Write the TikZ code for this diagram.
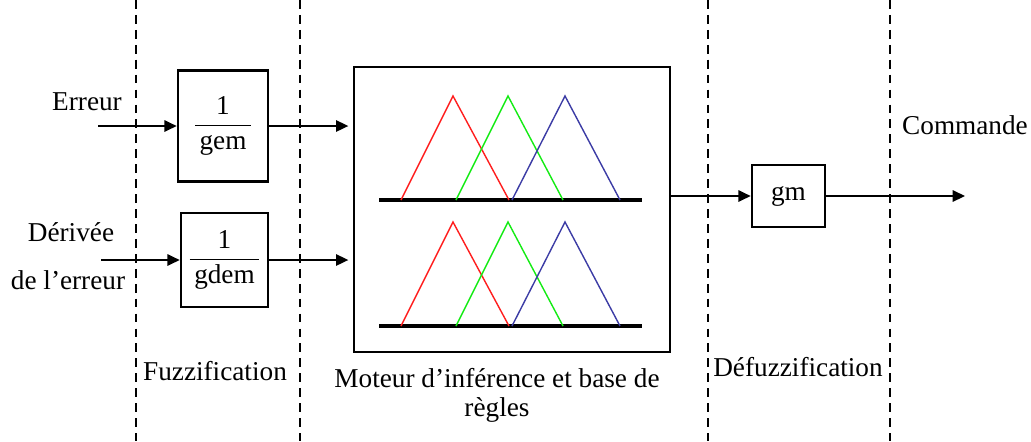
\documentclass[tikz,border=0pt]{standalone}
\usepackage{amsmath}
\usepackage{fontspec}
\setmainfont{Liberation Serif}
\newfontfamily\timesrm{Liberation Serif}
\usetikzlibrary{arrows.meta}
\definecolor{mfred}{RGB}{255,30,30}
\definecolor{mfgreen}{RGB}{20,235,20}
\definecolor{mfblue}{RGB}{60,60,165}
\newcommand{\gainfrac}[1]{$\genfrac{}{}{0.8pt}{0}{\text{\timesrm 1}}{\text{\timesrm\,#1\,}}$}
\begin{document}
\begin{tikzpicture}[x=0.02cm,y=-0.02cm,>={Triangle[length=7pt,width=6.5pt]},
    every node/.style={font=\timesrm\fontsize{15.5}{16.5}\selectfont},
    blockbox/.style={draw,line width=1.5pt,inner sep=0pt},
    sepline/.style={line width=1.4pt,dash pattern=on 5pt off 3.5pt},
    sigline/.style={->,line width=0.9pt}]
    \useasboundingbox (0,0) rectangle (1031,441);
    % zones
    \foreach \x in {136,300,708,890}
        \draw[sepline] (\x,0) -- (\x,441);
    % blocs
    \node[blockbox,minimum width=1.8cm,minimum height=2.22cm] (gem) at (223,126) {\gainfrac{gem}};
    \node[blockbox,minimum width=1.74cm,minimum height=1.88cm] (gdem) at (224.5,260) {\gainfrac{gdem}};
    \node[blockbox,minimum width=6.32cm,minimum height=5.7cm] (moteur) at (512,209.5) {};
    \node[blockbox,minimum width=1.46cm,minimum height=1.24cm] (gm) at (788.5,196) {gm};
    % fonctions d'appartenance
    \foreach \y in {200,326} {
        \draw[line width=1.8pt] (379,\y) -- (642,\y);
        \draw[mfred,line width=0.8pt] (401,\y) -- (453,\y-104) -- (509,\y);
        \draw[mfgreen,line width=0.8pt] (456,\y) -- (508,\y-104) -- (563,\y);
        \draw[mfblue,line width=0.8pt] (512,\y) -- (565,\y-104) -- (620,\y);
    }
    % entrees / sortie
    \coordinate (e1) at (98,126);
    \coordinate (e2) at (101,260);
    \coordinate (s) at (965,196);
    \node (erreur) at (87,102) {Erreur};
    \node (derivee) at (71,232) {Dérivée};
    \node (delerreur) at (68,280) {de l’erreur};
    \node (commande) at (965,125) {Commande};
    \draw[sigline] (e1) -- (gem);
    \draw[sigline] (e2) -- (gdem);
    \draw[sigline,shorten >=2.5pt] (gem.east) -- (gem.east -| moteur.west);
    \draw[sigline,shorten >=2.5pt] (gdem.east) -- (gdem.east -| moteur.west);
    \draw[sigline] (moteur.east |- gm) -- (gm);
    \draw[sigline] (gm) -- (s);
    % legendes
    \node (fuzz) at (215,371) {Fuzzification};
    \node[align=center] (inference) at (497,395) {Moteur d’inférence et base de\\règles};
    \node (defuzz) at (798,367) {Défuzzification};
\end{tikzpicture}
\end{document}
